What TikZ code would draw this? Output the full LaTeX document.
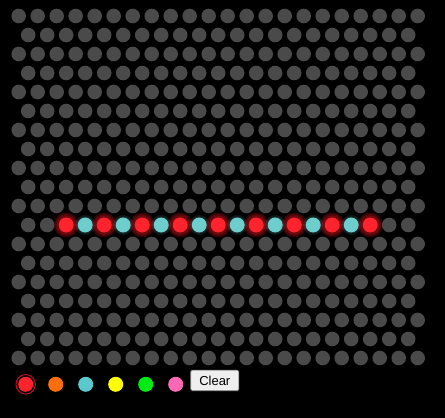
\documentclass[tikz,border=0pt]{standalone}
\usepackage{fontspec}
\setmainfont{Liberation Sans}
\definecolor{dotgray}{RGB}{74,74,74}
\definecolor{ledred}{RGB}{255,35,45}
\definecolor{ledglow}{RGB}{230,20,30}
\definecolor{ledcyan}{RGB}{110,205,205}
\definecolor{palorange}{RGB}{255,110,10}
\definecolor{palcyan}{RGB}{90,200,205}
\definecolor{palyellow}{RGB}{255,255,0}
\definecolor{palgreen}{RGB}{0,235,20}
\definecolor{palpink}{RGB}{255,105,180}
\definecolor{ringred}{RGB}{200,20,40}
\definecolor{btnfill}{RGB}{239,239,239}
\definecolor{btnborder}{RGB}{150,150,150}
\tikzset{
  dot/.style={circle,fill=dotgray,minimum size=14.6pt,inner sep=0pt,draw=none},
  led/.style={circle,fill=#1,minimum size=14.8pt,inner sep=0pt,draw=none},
  pal/.style={circle,fill=#1,minimum size=15pt,inner sep=0pt,draw=none},
  btn/.style={draw=btnborder,fill=btnfill,line width=0.8pt,rounded corners=1.5pt,
    minimum width=48pt,minimum height=20.5pt,inner sep=0pt,font=\fontsize{13}{15}\selectfont}
}
\begin{document}
\begin{tikzpicture}[x=1pt,y=-1pt]
\fill[black] (0,0) rectangle (445,418);
\useasboundingbox (0,0) rectangle (445,418);
% grid
\foreach \r in {0,...,18}{
  \pgfmathtruncatemacro{\odd}{mod(\r,2)}
  \ifnum\odd=0
    \foreach \j in {0,...,21}{
      \node[dot] (g-\r-\j) at ({18.7+19*\j},{16+19*\r}) {};
    }
  \else
    \foreach \j in {0,...,20}{
      \node[dot] (g-\r-\j) at ({28.2+19*\j},{16+19*\r}) {};
    }
  \fi
}
% glow
\foreach \j in {2,...,18}{
  \pgfmathtruncatemacro{\ev}{mod(\j,2)}
  \ifnum\ev=0
    \foreach \rr in {12.5,11,9.5}{
      \fill[ledglow,opacity=0.2] ({28.2+19*\j},225) circle (\rr);
    }
  \else
    \foreach \rr in {10,8.5}{
      \fill[ledcyan,opacity=0.12] ({28.2+19*\j},225) circle (\rr);
    }
  \fi
}
% lit leds
\foreach \j in {2,...,18}{
  \pgfmathtruncatemacro{\ev}{mod(\j,2)}
  \ifnum\ev=0
    \node[led=ledred] (l-\j) at ({28.2+19*\j},225) {};
  \else
    \node[led=ledcyan] (l-\j) at ({28.2+19*\j},225) {};
  \fi
}
% palette
\node[circle,draw=ringred,line width=0.9pt,minimum size=19.5pt,inner sep=0pt] (selring) at (25.7,384.3) {};
\node[pal=ledred] (p-red) at (25.7,384.3) {};
\node[pal=palorange] (p-orange) at (55.7,384.3) {};
\node[pal=palcyan] (p-cyan) at (85.7,384.3) {};
\node[pal=palyellow] (p-yellow) at (115.7,384.3) {};
\node[pal=palgreen] (p-green) at (145.7,384.3) {};
\node[pal=palpink] (p-pink) at (175.7,384.3) {};
\node[btn] (clear) at (214.8,380.4) {Clear};
\end{tikzpicture}
\end{document}
